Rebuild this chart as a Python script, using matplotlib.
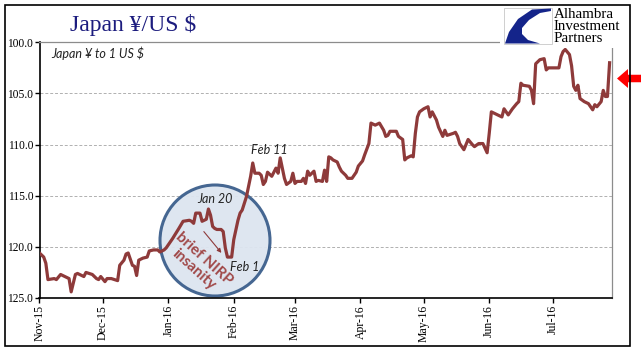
import matplotlib
matplotlib.use("Agg")
import matplotlib.pyplot as plt
import matplotlib.dates as mdates
import matplotlib.patches as mpatches
import pandas as pd

# ---- data -------------------------------------------------------------
dates = [
    "2015-11-01", "2015-11-03", "2015-11-04", "2015-11-05", "2015-11-08", "2015-11-09",
    "2015-11-11", "2015-11-13", "2015-11-15", "2015-11-16", "2015-11-18", "2015-11-19",
    "2015-11-22", "2015-11-23", "2015-11-26", "2015-11-28", "2015-11-29", "2015-11-30",
    "2015-12-02", "2015-12-03", "2015-12-05", "2015-12-08", "2015-12-09", "2015-12-11",
    "2015-12-12", "2015-12-13", "2015-12-15", "2015-12-16", "2015-12-17", "2015-12-18",
    "2015-12-20", "2015-12-22", "2015-12-23", "2015-12-25", "2015-12-27", "2015-12-28",
    "2015-12-30", "2015-12-31", "2016-01-03", "2016-01-06", "2016-01-08", "2016-01-11",
    "2016-01-12", "2016-01-13", "2016-01-14", "2016-01-16", "2016-01-17", "2016-01-19",
    "2016-01-20", "2016-01-21", "2016-01-22", "2016-01-23", "2016-01-24", "2016-01-26",
    "2016-01-27", "2016-01-28", "2016-01-29", "2016-01-30", "2016-01-31", "2016-02-01",
    "2016-02-03", "2016-02-04", "2016-02-05", "2016-02-07", "2016-02-08", "2016-02-09",
    "2016-02-10", "2016-02-11", "2016-02-13", "2016-02-14", "2016-02-15", "2016-02-16",
    "2016-02-17", "2016-02-19", "2016-02-21", "2016-02-22", "2016-02-23", "2016-02-25",
    "2016-02-26", "2016-02-28", "2016-02-29", "2016-03-01", "2016-03-02", "2016-03-04",
    "2016-03-05", "2016-03-06", "2016-03-07", "2016-03-08", "2016-03-10", "2016-03-11",
    "2016-03-12", "2016-03-14", "2016-03-15", "2016-03-16", "2016-03-17", "2016-03-18",
    "2016-03-19", "2016-03-21", "2016-03-22", "2016-03-23", "2016-03-25", "2016-03-26",
    "2016-03-28", "2016-03-30", "2016-03-31", "2016-04-02", "2016-04-03", "2016-04-05",
    "2016-04-06", "2016-04-08", "2016-04-10", "2016-04-12", "2016-04-13", "2016-04-14",
    "2016-04-15", "2016-04-18", "2016-04-19", "2016-04-21", "2016-04-22", "2016-04-23",
    "2016-04-25", "2016-04-26", "2016-04-27", "2016-04-28", "2016-04-29", "2016-05-01",
    "2016-05-03", "2016-05-04", "2016-05-05", "2016-05-07", "2016-05-08", "2016-05-10",
    "2016-05-11", "2016-05-12", "2016-05-15", "2016-05-16", "2016-05-17", "2016-05-18",
    "2016-05-20", "2016-05-21", "2016-05-22", "2016-05-24", "2016-05-25", "2016-05-27",
    "2016-05-29", "2016-05-31", "2016-06-01", "2016-06-02", "2016-06-05", "2016-06-07",
    "2016-06-08", "2016-06-10", "2016-06-12", "2016-06-14", "2016-06-15", "2016-06-16",
    "2016-06-17", "2016-06-20", "2016-06-21", "2016-06-22", "2016-06-23", "2016-06-25",
    "2016-06-27", "2016-06-28", "2016-06-29", "2016-07-01", "2016-07-04", "2016-07-05",
    "2016-07-06", "2016-07-07", "2016-07-09", "2016-07-10", "2016-07-11", "2016-07-12",
    "2016-07-13", "2016-07-14", "2016-07-16", "2016-07-18", "2016-07-20", "2016-07-21",
    "2016-07-22", "2016-07-24", "2016-07-25", "2016-07-26", "2016-07-27", "2016-07-28",
]
yen_per_usd = [
    120.6, 121.0, 121.6, 123.2, 123.1, 123.2,
    122.7, 122.9, 123.1, 124.4, 122.7, 122.6,
    122.9, 122.5, 122.7, 123.1, 123.2, 122.9,
    123.4, 123.1, 123.1, 123.3, 121.8, 121.3,
    120.7, 120.6, 121.8, 121.9, 122.8, 121.3,
    121.1, 121.0, 120.4, 120.3, 120.3, 120.5,
    120.3, 120.1, 119.2, 118.2, 117.5, 117.4,
    117.5, 117.7, 116.7, 116.7, 117.5, 117.3,
    116.3, 116.9, 118.0, 118.2, 118.3, 118.3,
    118.5, 120.1, 121.0, 121.0, 121.0, 119.3,
    117.4, 116.7, 116.4, 115.1, 114.1, 113.1,
    111.8, 112.8, 112.8, 113.0, 113.9, 113.6,
    112.7, 113.1, 112.3, 112.8, 111.3, 113.3,
    113.9, 113.6, 112.8, 113.8, 113.6, 113.6,
    113.3, 113.8, 112.6, 113.0, 112.6, 113.6,
    113.5, 113.6, 112.5, 113.6, 111.2, 111.3,
    111.5, 111.7, 112.2, 112.6, 113.0, 113.3,
    113.3, 112.7, 112.1, 111.6, 111.0, 109.9,
    107.9, 108.1, 107.9, 108.6, 109.2, 109.1,
    108.7, 108.7, 109.2, 109.5, 111.5, 111.3,
    111.1, 111.2, 108.9, 107.3, 106.8, 106.5,
    106.3, 107.3, 106.8, 107.6, 108.3, 109.2,
    108.6, 109.1, 108.9, 108.8, 109.2, 109.9,
    110.5, 110.0, 109.5, 110.0, 110.2, 109.9,
    109.9, 110.8, 108.9, 106.8, 107.1, 107.3,
    106.5, 107.1, 106.5, 106.0, 105.8, 104.0,
    104.2, 104.3, 104.7, 106.0, 102.1, 101.7,
    101.6, 102.7, 102.5, 102.5, 102.5, 101.4,
    100.9, 100.7, 101.2, 102.3, 104.3, 104.7,
    104.2, 105.5, 105.8, 106.0, 106.6, 106.1,
    106.3, 105.8, 104.7, 105.3, 105.3, 102.0,
]
y_ticks = [100.0, 105.0, 110.0, 115.0, 120.0, 125.0]
x_start, x_end = "2015-11-01", "2016-07-29"

title = "Japan \u00a5/US $"
subtitle = "Japan \u00a5 to 1 US $"
ann_jan20 = ("2016-01-23", 115.3, "Jan 20")
ann_feb1 = ("2016-02-06", 122.0, "Feb 1")
ann_feb11 = ("2016-02-18", 110.5, "Feb 11")
arrow_from = ("2016-01-17", 118.3)
arrow_to = ("2016-01-27", 120.8)

# ---- figure ----------------------------------------------------------
W, H = 641, 361
fig = plt.figure(figsize=(W / 100, H / 100), dpi=100)
fig.patch.set_facecolor("white")

def fx(px):
    return px / W

def fy(py):
    return 1 - py / H

ax = fig.add_axes([fx(39.5), fy(298), fx(611.7) - fx(39.5), fy(42.3) - fy(298)])

x = pd.to_datetime(dates)
line_color = "#8e3a3a"
ax.plot(x, yen_per_usd, color=line_color, lw=2.3, zorder=3, solid_joinstyle="round")

ax.set_ylim(125, 100)
ax.set_xlim(pd.Timestamp(x_start), pd.Timestamp(x_end))
ax.set_yticks(y_ticks)
ax.yaxis.set_major_formatter(matplotlib.ticker.FormatStrFormatter("%.1f"))
ax.xaxis.set_major_locator(mdates.MonthLocator())
ax.xaxis.set_major_formatter(mdates.DateFormatter("%b-%y"))

tick_font = {"family": "Liberation Serif", "size": 8.3}
for lab in ax.get_yticklabels():
    lab.set_fontfamily("Liberation Serif"); lab.set_fontsize(8.3)
for lab in ax.get_xticklabels():
    lab.set_fontfamily("Liberation Serif"); lab.set_fontsize(8.5)
    lab.set_rotation(90)
ax.tick_params(axis="both", direction="out", length=3.5, width=1, color="black", pad=1.5)
ax.tick_params(axis="y", pad=1)

ax.grid(axis="y", color="#b0b0b0", lw=0.7, ls=(0, (3, 2)), zorder=1)
ax.grid(axis="x", visible=False)
for s in ["left", "bottom"]:
    ax.spines[s].set_color("black"); ax.spines[s].set_linewidth(1.2)
for s in ["top", "right"]:
    ax.spines[s].set_color("#8c8c8c"); ax.spines[s].set_linewidth(0.9)

# circle highlight
circ = mpatches.Ellipse((fx(215), fy(240.5)), fx(110), 111 / H, transform=fig.transFigure,
                        facecolor="#dde5f0", edgecolor="#3c5f8c", lw=2.2, alpha=0.95, zorder=2)
ax.add_artist(circ)
circ.set_clip_on(False)

ax.text(fx(199), fy(264.5), "brief NIRP\ninsanity", transform=fig.transFigure,
        rotation=-42, rotation_mode="anchor", ha="center", va="center", multialignment="center",
        family="Lato", fontweight="bold", fontsize=11, color="#a04848", zorder=4, linespacing=1.05)

ital = dict(family="Lato", style="italic", fontsize=9, color="#222222", zorder=5)
ax.text(pd.Timestamp(ann_jan20[0]), ann_jan20[1], ann_jan20[2], ha="center", va="center", **ital)
ax.text(pd.Timestamp(ann_feb1[0]), ann_feb1[1], ann_feb1[2], ha="center", va="center", **ital)
ax.text(pd.Timestamp(ann_feb11[0]), ann_feb11[1], ann_feb11[2], ha="center", va="center", **ital)
ax.text(0.02, 0.957, subtitle, transform=ax.transAxes, ha="left", va="center", **ital)

ax.annotate("", xy=(pd.Timestamp(arrow_to[0]), arrow_to[1]),
            xytext=(pd.Timestamp(arrow_from[0]), arrow_from[1]),
            arrowprops=dict(arrowstyle="-|>", color="#8e3a3a", lw=0.8, mutation_scale=6),
            zorder=5)

# title
fig.text(fx(70), fy(31), title, family="Liberation Serif", fontsize=17, color="#1c1c7e",
         ha="left", va="baseline")

# logo
fig.add_artist(mpatches.Rectangle((fx(500), fy(48)), fx(127), 42 / H, transform=fig.transFigure,
                                  facecolor="white", edgecolor="none", zorder=10))
fig.add_artist(mpatches.Rectangle((fx(503.5), fy(44)), fx(48), 36 / H, transform=fig.transFigure,
                                  facecolor="white", edgecolor="#c8c8c8", lw=0.6, zorder=11))
logo_pts = [(551, 8.5), (532, 9.5), (518, 19), (509, 32), (505, 43.5), (540, 43.5),
            (528, 40), (522, 34), (522, 28), (529, 20), (540, 13), (551, 11)]
fig.add_artist(mpatches.Polygon([(fx(a), fy(b)) for a, b in logo_pts], closed=True,
                                transform=fig.transFigure, facecolor="#14248a",
                                edgecolor="none", zorder=12))
for txt, base in [("Alhambra", 17.5), ("Investment", 30), ("Partners", 42.5)]:
    fig.text(fx(554), fy(base), txt, family="Liberation Serif", fontsize=10.8, color="black",
             ha="left", va="baseline", zorder=13)

# red arrow
fig.add_artist(mpatches.FancyArrow(fx(641), fy(78.5), fx(617) - fx(641), 0, width=7.5 / H,
                                   head_width=19 / H, head_length=fx(11),
                                   length_includes_head=True, transform=fig.transFigure,
                                   facecolor="#ff0000", edgecolor="none", zorder=14))

# outer border
fig.add_artist(mpatches.Rectangle((fx(4.5), fy(345.5)), fx(625.5), 341 / H,
                                  transform=fig.transFigure, fill=False,
                                  edgecolor="black", lw=1.2, zorder=15))

fig.savefig("out.png", dpi=100)
